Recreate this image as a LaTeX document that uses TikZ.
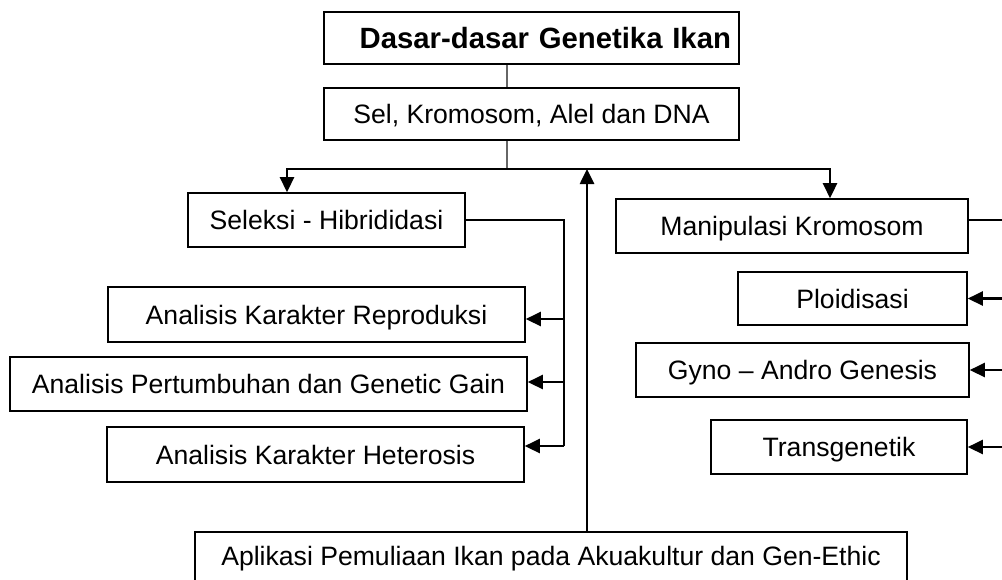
\documentclass[tikz,border=0pt]{standalone}
\usepackage{fontspec}
\setmainfont{Liberation Sans}
\usetikzlibrary{arrows.meta,positioning}

\tikzset{
  kotak/.style={draw, line width=1.6pt, inner sep=0pt, text height=19pt, text depth=0pt,
                font=\fontsize{26.6}{32}\selectfont},
  hubung/.style={line width=2pt},
  abu/.style={line width=1.6pt, draw=black!60},
  panah/.style={line width=2.6pt, -{Triangle[length=15pt,width=14pt]}},
}

\begin{document}
\begin{tikzpicture}[x=1pt,y=-1pt]
    \useasboundingbox (0,0) rectangle (1002,579);

    % kotak bagian atas
    \node[kotak, minimum width=415pt, minimum height=52pt, text width=399pt, align=right, text height=21pt,
          font=\fontsize{29.3}{34}\selectfont\bfseries] (dasar) at (531.5,38) {Dasar-dasar Genetika Ikan};
    \node[kotak, minimum width=415pt, minimum height=52pt] (sel) at (531.5,114) {Sel, Kromosom, Alel dan DNA};

    % cabang kiri
    \node[kotak, minimum width=277pt, minimum height=54pt] (seleksi) at (326.5,220) {Seleksi - Hibrididasi};
    \node[kotak, minimum width=417pt, minimum height=55pt] (reproduksi) at (316.5,314.5) {Analisis Karakter Reproduksi};
    \node[kotak, minimum width=517pt, minimum height=54pt] (pertumbuhan) at (268.5,384) {Analisis Pertumbuhan dan Genetic Gain};
    \node[kotak, minimum width=417pt, minimum height=55pt] (heterosis) at (315.5,454.5) {Analisis Karakter Heterosis};

    % cabang kanan
    \node[kotak, minimum width=352pt, minimum height=54pt] (manipulasi) at (792,226) {Manipulasi Kromosom};
    \node[kotak, minimum width=229pt, minimum height=53pt] (ploidisasi) at (852.5,298.5) {Ploidisasi};
    \node[kotak, minimum width=333pt, minimum height=54pt] (gyno) at (802.5,370) {Gyno – Andro Genesis};
    \node[kotak, minimum width=256pt, minimum height=54pt] (transgenetik) at (839,447) {Transgenetik};

    % aplikasi di bawah
    \node[kotak, minimum width=712pt, text height=33pt, text depth=20pt, anchor=base] (aplikasi) at (551,565)
         {Aplikasi Pemuliaan Ikan pada Akuakultur dan Gen-Ethic};

    % titik bantu
    \coordinate (simpul) at (507,169);
    \coordinate (kiri) at (287,169);
    \coordinate (kanan) at (830,169);
    \coordinate (naik) at (587,169);
    \coordinate (jalur-l) at (564,446);
    \coordinate (jalur-r) at (1008,446);

    % garis penghubung atas
    \draw[abu] (dasar.south -| simpul) -- (sel.north -| simpul);
    \draw[abu] (sel.south -| simpul) -- (simpul);
    \draw[panah] (simpul) -| (kiri |- seleksi.north);
    \draw[panah] (simpul) -| (kanan |- manipulasi.north);
    \draw[panah] (aplikasi.north -| naik) -- (naik);

    % cabang kiri
    \draw[hubung] (seleksi.east) -| (jalur-l);
    \foreach \nama/\geser in {reproduksi/-4.5, pertumbuhan/2, heterosis/8.5} {
      \coordinate (\nama-masuk) at ([yshift=\geser pt]\nama.east);
      \draw[panah] (\nama-masuk -| jalur-l) -- (\nama-masuk);
    }

    % cabang kanan
    \coordinate (manip-keluar) at ([yshift=6pt]manipulasi.east);
    \draw[hubung] (manip-keluar) -| (jalur-r);
    \foreach \nama in {ploidisasi, gyno, transgenetik}
      \draw[panah] (\nama.east -| jalur-r) -- (\nama.east);
\end{tikzpicture}
\end{document}
